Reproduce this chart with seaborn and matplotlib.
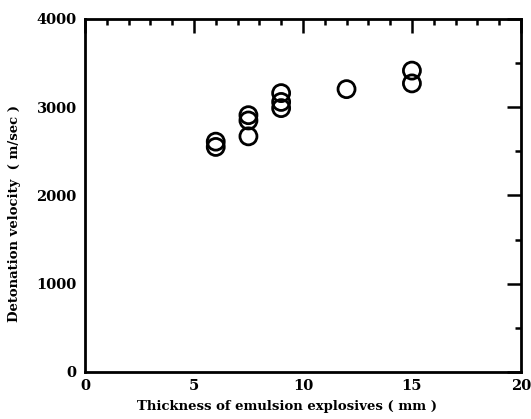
import matplotlib
matplotlib.use("Agg")
import matplotlib.pyplot as plt
import seaborn as sns
import pandas as pd
from matplotlib.ticker import MultipleLocator

thickness = [6, 6, 7.5, 7.5, 7.5, 9, 9, 9, 12, 15, 15]
velocity = [2610, 2550, 2910, 2850, 2670, 3160, 3060, 2990, 3205, 3415, 3270]

x_ticks = [0, 5, 10, 15, 20]
y_ticks = [0, 1000, 2000, 3000, 4000]
x_label = "Thickness of emulsion explosives ( mm )"
y_label = "Detonation velocity  ( m/sec )"

df = pd.DataFrame({"thickness": thickness, "velocity": velocity})

sns.set_style("white")
plt.rcParams['font.family'] = ['DejaVu Serif']
plt.rcParams['font.weight'] = 'bold'
plt.rcParams['text.color'] = 'black'
plt.rcParams['axes.labelcolor'] = 'black'
plt.rcParams['xtick.color'] = 'black'
plt.rcParams['ytick.color'] = 'black'

fig = plt.figure(figsize=(5.31, 4.19), dpi=100)
ax = fig.add_axes([0.160, 0.1122, 0.821, 0.8425])

sns.scatterplot(data=df, x="thickness", y="velocity", ax=ax,
                marker="o", s=150, facecolor="none", edgecolor="black",
                linewidth=2.0, legend=False)

ax.set_xlim(0, 20)
ax.set_ylim(0, 4000)
ax.set_xticks(x_ticks)
ax.set_yticks(y_ticks)
ax.xaxis.set_minor_locator(MultipleLocator(1))
ax.yaxis.set_minor_locator(MultipleLocator(500))
ax.tick_params(which="both", direction="in", top=True, right=True,
               color="black", width=1.8, labelcolor="black")
ax.tick_params(which="major", length=10)
ax.tick_params(which="minor", length=4.5)
ax.tick_params(axis="x", which="major", pad=5, labelsize=10.5)
ax.tick_params(axis="y", which="major", pad=6, labelsize=10.5)
for lbl in ax.get_xticklabels() + ax.get_yticklabels():
    lbl.set_fontweight("bold")
for sp in ax.spines.values():
    sp.set_color("black")
    sp.set_linewidth(2.0)

ax.set_xlabel(x_label, fontsize=9.5, fontweight="bold", color="black")
ax.set_ylabel(y_label, fontsize=9.5, fontweight="bold", color="black")
ax.xaxis.set_label_coords(0.463, -0.08)
ax.yaxis.set_label_coords(-0.147, 0.45)

fig.savefig("out.png", dpi=100)
